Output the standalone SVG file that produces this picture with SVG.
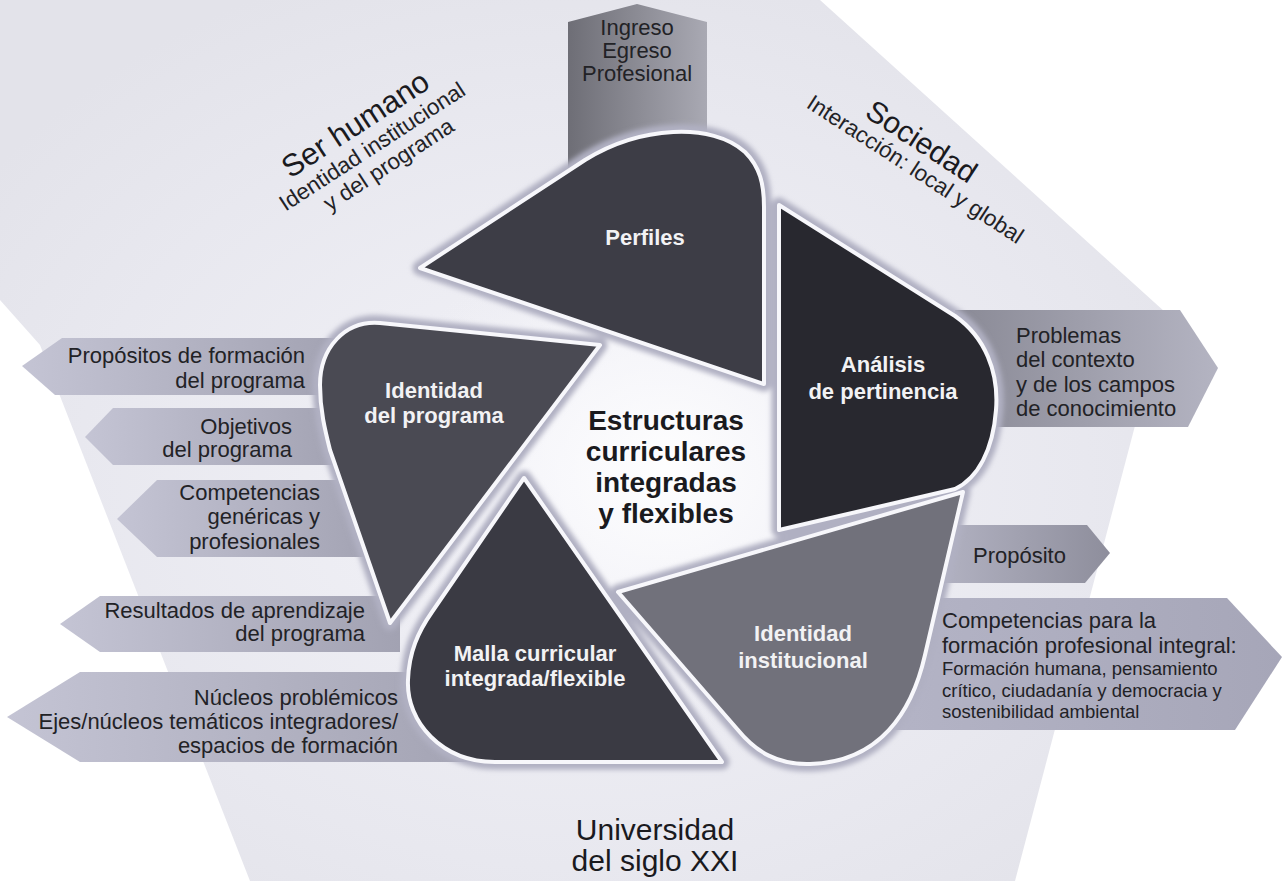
<svg xmlns="http://www.w3.org/2000/svg" width="1284" height="881" viewBox="0 0 1284 881">
<defs>
  <radialGradient id="bg" cx="0.5" cy="0.55" r="0.62">
    <stop offset="0" stop-color="#f3f3f8"/>
    <stop offset="0.7" stop-color="#e8e8ef"/>
    <stop offset="1" stop-color="#e3e3ea"/>
  </radialGradient>
  <radialGradient id="glow" cx="0.5" cy="0.5" r="0.5">
    <stop offset="0" stop-color="#ffffff" stop-opacity="0.95"/>
    <stop offset="0.6" stop-color="#f7f7fb" stop-opacity="0.6"/>
    <stop offset="1" stop-color="#f0f0f5" stop-opacity="0"/>
  </radialGradient>
  <linearGradient id="gl" x1="0" y1="0" x2="1" y2="0">
    <stop offset="0" stop-color="#c4c4d4"/>
    <stop offset="1" stop-color="#a2a2b2"/>
  </linearGradient>
  <linearGradient id="gr1" x1="0" y1="0" x2="1" y2="0">
    <stop offset="0" stop-color="#8a8a96"/>
    <stop offset="1" stop-color="#b4b4c2"/>
  </linearGradient>
  <linearGradient id="gr2" x1="0" y1="0" x2="1" y2="0">
    <stop offset="0" stop-color="#b4b4c4"/>
    <stop offset="1" stop-color="#8e8e9c"/>
  </linearGradient>
  <linearGradient id="gr3" x1="0" y1="0" x2="1" y2="0">
    <stop offset="0" stop-color="#b4b4c6"/>
    <stop offset="1" stop-color="#a6a6b8"/>
  </linearGradient>
  <linearGradient id="gtab" x1="0" y1="0" x2="1" y2="0">
    <stop offset="0" stop-color="#6e6e76"/>
    <stop offset="1" stop-color="#a9a9b3"/>
  </linearGradient>
  <filter id="blur" x="-10%" y="-10%" width="120%" height="120%">
    <feGaussianBlur stdDeviation="2.5"/>
  </filter>
</defs>
<style>
  .lbl{font-family:"Liberation Sans",Arial,sans-serif;font-size:22px;fill:#222226}
  .sm{font-size:18.5px}
  .sub{font-size:22.5px}
  .end{text-anchor:end}
  .mid{text-anchor:middle}
  .bl{font-family:"Liberation Sans",Arial,sans-serif;font-size:22px;font-weight:bold;fill:#f2f2f4;text-anchor:middle}
  .ctr{font-family:"Liberation Sans",Arial,sans-serif;font-size:28px;font-weight:bold;fill:#1a1a1e;text-anchor:middle}
  .big{font-family:"Liberation Sans",Arial,sans-serif;font-size:30px;fill:#1a1a1e;text-anchor:middle}
  .band{fill:none;stroke:#b0b0c2;stroke-width:15;stroke-linejoin:round}
  .blade{stroke:#f7f7fb;stroke-width:4;stroke-linejoin:round}
</style>

<rect width="1284" height="881" fill="#ffffff"/>
<polygon points="0,0 820,0 1165,312 1015,881 250,881 40,345 0,300" fill="url(#bg)"/>
<ellipse cx="665" cy="470" rx="290" ry="260" fill="url(#glow)"/>

<g id="tab">
  <polygon points="568,22 637,4 707,22 707,175 568,175" fill="url(#gtab)"/>
  <text class="lbl mid" x="637" y="35">Ingreso</text>
  <text class="lbl mid" x="637" y="58">Egreso</text>
  <text class="lbl mid" x="637" y="81">Profesional</text>
</g>

<g id="arrows-left">
  <polygon points="22,366 62,338 345,338 345,395 55,395" fill="url(#gl)"/>
  <polygon points="85,437 113,408 345,408 345,465 113,465" fill="url(#gl)"/>
  <polygon points="117,519 157,480 380,480 380,557 157,557" fill="url(#gl)"/>
  <polygon points="60,624 100,596 400,596 400,652 100,652" fill="url(#gl)"/>
  <polygon points="7,717 80,672 500,672 500,762 80,762" fill="url(#gl)"/>
</g>
<g id="arrows-right">
  <polygon points="955,310 1180,310 1218,368 1188,427 955,427" fill="url(#gr1)"/>
  <polygon points="930,525 1087,525 1110,553 1085,583 930,583" fill="url(#gr2)"/>
  <polygon points="880,598 1227,598 1282,657 1235,730 880,730" fill="url(#gr3)"/>
</g>

<g id="connectors"></g>

<g id="bands" filter="url(#blur)">
  <path class="band" d="M420,268 L585,160 C640,126 712,122 745,152 C760,167 764,184 764,207 L764,384 Z"/>
  <path class="band" d="M779,205 L955,316 C985,337 999,372 996,410 C993,450 978,478 955,489 L779,530 Z"/>
  <path class="band" d="M618,592 L963,492 L925,655 C912,712 880,762 810,764 C778,765 756,752 738,730 Z"/>
  <path class="band" d="M524,478 L722,762 L495,762 C442,762 406,722 408,680 C409,652 418,632 432,612 Z"/>
  <path class="band" d="M390,623 L600,345 L380,323 C345,320 320,348 320,385 C320,410 325,430 330,450 Z"/>
</g>

<g id="perfiles">
  <path class="blade" fill="#3d3d46" d="M420,268 L585,160 C640,126 712,122 745,152 C760,167 764,184 764,207 L764,384 Z"/>
  <text class="bl" x="645" y="245">Perfiles</text>
</g>
<g id="analisis">
  <path class="blade" fill="#28282f" d="M779,205 L955,316 C985,337 999,372 996,410 C993,450 978,478 955,489 L779,530 Z"/>
  <text class="bl" x="883" y="372">Análisis</text>
  <text class="bl" x="883" y="399">de pertinencia</text>
</g>
<g id="identidad-institucional">
  <path class="blade" fill="#71717b" d="M618,592 L963,492 L925,655 C912,712 880,762 810,764 C778,765 756,752 738,730 Z"/>
  <text class="bl" x="803" y="641">Identidad</text>
  <text class="bl" x="803" y="668">institucional</text>
</g>
<g id="malla">
  <path class="blade" fill="#3a3a43" d="M524,478 L722,762 L495,762 C442,762 406,722 408,680 C409,652 418,632 432,612 Z"/>
  <text class="bl" x="535" y="661">Malla curricular</text>
  <text class="bl" x="535" y="686">integrada/flexible</text>
</g>
<g id="identidad-programa">
  <path class="blade" fill="#4a4a53" d="M390,623 L600,345 L380,323 C345,320 320,348 320,385 C320,410 325,430 330,450 Z"/>
  <text class="bl" x="434" y="398">Identidad</text>
  <text class="bl" x="434" y="423">del programa</text>
</g>

<g id="centro">
  <text class="ctr" x="666" y="430">Estructuras</text>
  <text class="ctr" x="666" y="461">curriculares</text>
  <text class="ctr" x="666" y="492">integradas</text>
  <text class="ctr" x="666" y="523">y flexibles</text>
</g>

<g id="ser-humano" transform="translate(361,133) rotate(-33)">
  <text class="big" x="0" y="0" style="font-size:31px">Ser humano</text>
  <text class="lbl mid sub" x="2" y="25">Identidad institucional</text>
  <text class="lbl mid sub" x="6" y="49">y del programa</text>
</g>
<g id="sociedad" transform="translate(916,150) rotate(33)">
  <text class="big" x="0" y="0">Sociedad</text>
  <text class="lbl mid sub" x="10" y="24">Interacción: local y global</text>
</g>

<g id="labels-left">
  <text class="lbl end" x="305" y="363">Propósitos de formación</text>
  <text class="lbl end" x="305" y="388">del programa</text>
  <text class="lbl end" x="292" y="434">Objetivos</text>
  <text class="lbl end" x="292" y="457">del programa</text>
  <text class="lbl end" x="320" y="500">Competencias</text>
  <text class="lbl end" x="320" y="524">genéricas y</text>
  <text class="lbl end" x="320" y="549">profesionales</text>
  <text class="lbl end" x="365" y="618">Resultados de aprendizaje</text>
  <text class="lbl end" x="365" y="641">del programa</text>
  <text class="lbl end" x="398" y="705">Núcleos problémicos</text>
  <text class="lbl end" x="398" y="729">Ejes/núcleos temáticos integradores/</text>
  <text class="lbl end" x="398" y="753">espacios de formación</text>
</g>
<g id="labels-right">
  <text class="lbl" x="1016" y="343">Problemas</text>
  <text class="lbl" x="1016" y="367">del contexto</text>
  <text class="lbl" x="1016" y="392">y de los campos</text>
  <text class="lbl" x="1016" y="416">de conocimiento</text>
  <text class="lbl" x="973" y="563">Propósito</text>
  <text class="lbl" x="942" y="628">Competencias para la</text>
  <text class="lbl" x="942" y="653">formación profesional integral:</text>
  <text class="lbl sm" x="942" y="675">Formación humana, pensamiento</text>
  <text class="lbl sm" x="942" y="697">crítico, ciudadanía y democracia y</text>
  <text class="lbl sm" x="942" y="718">sostenibilidad ambiental</text>
</g>

<g id="universidad">
  <text class="big" x="655" y="840">Universidad</text>
  <text class="big" x="655" y="871">del siglo XXI</text>
</g>
</svg>
